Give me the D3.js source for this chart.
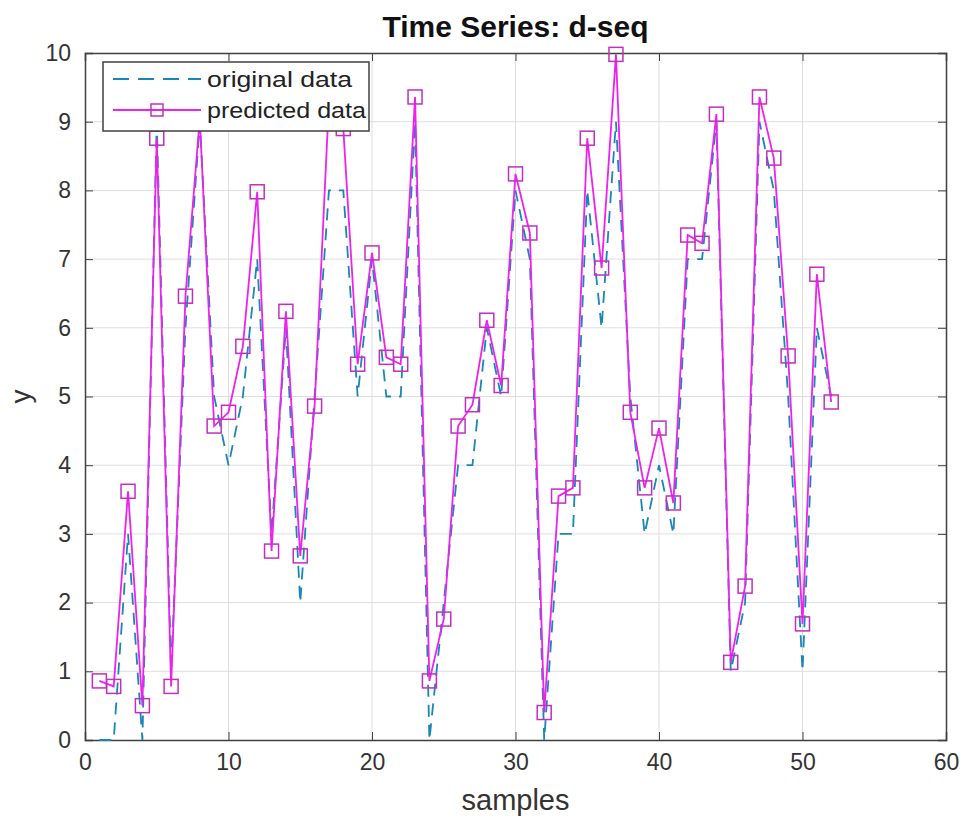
<!DOCTYPE html>
<html>
<head>
  <meta charset="UTF-8">
  <title>Time Series: d-seq</title>
  <script src="https://d3js.org/d3.v7.min.js"></script>
  <style>
    body { margin: 0; background: #fff; }
    text { font-family: "Liberation Sans", Arial, sans-serif; }
  </style>
</head>
<body>
  <div id="chart"></div>

  <script>
    // sample index 1..52
    const samples = d3.range(1, 53);

    const original = [0, 0, 3, 0, 9, 1, 6, 9, 5, 4,
                      5, 7, 3, 6, 2, 5, 8, 8, 5, 7,
                      5, 5, 9, 0, 2, 4, 4, 6, 5, 8,
                      7, 0, 3, 3, 8, 6, 9, 5, 3, 4,
                      3, 7, 7, 9, 1, 2, 9, 8, 5, 1,
                      6, 5];

    const predicted = [0.86, 0.78, 3.62, 0.50, 8.76, 0.78, 6.46, 9.05, 4.57, 4.77,
                       5.73, 7.98, 2.75, 6.24, 2.68, 4.86, 9.30, 8.90, 5.47, 7.09,
                       5.57, 5.47, 9.36, 0.86, 1.76, 4.57, 4.88, 6.11, 5.16, 8.24,
                       7.38, 0.40, 3.55, 3.67, 8.76, 6.87, 9.98, 4.77, 3.67, 4.54,
                       3.45, 7.35, 7.23, 9.11, 1.13, 2.24, 9.36, 8.47, 5.59, 1.69,
                       6.78, 4.92];

    const xTicks = [0, 10, 20, 30, 40, 50, 60];
    const yTicks = [0, 1, 2, 3, 4, 5, 6, 7, 8, 9, 10];

    const W = 974, H = 822;
    const margin = { top: 53, right: 28, bottom: 82, left: 85 };
    const width = W - margin.left - margin.right;
    const height = H - margin.top - margin.bottom;

    const svg = d3.select("#chart").append("svg")
      .attr("width", W)
      .attr("height", H);

    const g = svg.append("g")
      .attr("transform", "translate(" + margin.left + "," + margin.top + ")");

    const x = d3.scaleLinear().domain([0, 60]).range([0, width]);
    const y = d3.scaleLinear().domain([0, 10]).range([height, 0]);

    // grid
    g.append("g").selectAll("line")
      .data(xTicks.slice(1, -1))
      .join("line")
      .attr("x1", d => x(d)).attr("x2", d => x(d))
      .attr("y1", 0).attr("y2", height)
      .attr("stroke", "#dedede").attr("stroke-width", 1);

    g.append("g").selectAll("line")
      .data(yTicks.slice(1, -1))
      .join("line")
      .attr("y1", d => y(d)).attr("y2", d => y(d))
      .attr("x1", 0).attr("x2", width)
      .attr("stroke", "#dedede").attr("stroke-width", 1);

    // axes, ticks pointing inward
    g.append("g")
      .attr("transform", "translate(0," + height + ")")
      .call(d3.axisBottom(x).tickValues(xTicks).tickSize(-8).tickPadding(14));
    g.append("g")
      .call(d3.axisTop(x).tickValues(xTicks).tickSize(-8).tickFormat(""));
    g.append("g")
      .call(d3.axisLeft(y).tickValues(yTicks).tickSize(-8).tickPadding(14));
    g.append("g")
      .attr("transform", "translate(" + width + ",0)")
      .call(d3.axisRight(y).tickValues(yTicks).tickSize(-8).tickFormat(""));

    g.selectAll(".domain").attr("stroke", "#404040").attr("stroke-width", 1.5);
    g.selectAll(".tick line").attr("stroke", "#404040");
    g.selectAll(".tick text").attr("fill", "#333").style("font-size", "23px");

    // original data
    const line = d3.line()
      .x((d, i) => x(samples[i]))
      .y(d => y(d));

    g.append("path")
      .datum(original)
      .attr("fill", "none")
      .attr("stroke", "#1a86b8")
      .attr("stroke-width", 1.8)
      .attr("stroke-dasharray", "12,8")
      .attr("d", line);

    // predicted data
    g.append("path")
      .datum(predicted)
      .attr("fill", "none")
      .attr("stroke", "#ee22ee")
      .attr("stroke-width", 1.8)
      .attr("d", line);

    const ms = 14;
    g.append("g").selectAll("rect")
      .data(predicted)
      .join("rect")
      .attr("x", (d, i) => x(samples[i]) - ms / 2)
      .attr("y", d => y(d) - ms / 2)
      .attr("width", ms).attr("height", ms)
      .attr("fill", "none")
      .attr("stroke", "#c030c0")
      .attr("stroke-width", 1.5);

    // legend
    const lg = svg.append("g").attr("transform", "translate(103,62)");
    lg.append("rect")
      .attr("width", 266).attr("height", 69)
      .attr("fill", "#fff")
      .attr("stroke", "#404040").attr("stroke-width", 1.5);
    lg.append("line")
      .attr("x1", 10).attr("x2", 98).attr("y1", 17).attr("y2", 17)
      .attr("stroke", "#1a86b8").attr("stroke-width", 1.8)
      .attr("stroke-dasharray", "16,9");
    lg.append("text").attr("x", 104).attr("y", 25)
      .style("font-size", "22px").attr("fill", "#222")
      .attr("textLength", 145).attr("lengthAdjust", "spacingAndGlyphs")
      .text("original data");
    lg.append("line")
      .attr("x1", 10).attr("x2", 98).attr("y1", 48).attr("y2", 48)
      .attr("stroke", "#ee22ee").attr("stroke-width", 1.8);
    lg.append("rect")
      .attr("x", 54 - 6).attr("y", 48 - 6)
      .attr("width", 12).attr("height", 12)
      .attr("fill", "none").attr("stroke", "#c030c0").attr("stroke-width", 1.5);
    lg.append("text").attr("x", 104).attr("y", 56)
      .style("font-size", "22px").attr("fill", "#222")
      .attr("textLength", 159).attr("lengthAdjust", "spacingAndGlyphs")
      .text("predicted data");

    // title and labels
    svg.append("text")
      .attr("x", margin.left + width / 2).attr("y", 37)
      .attr("text-anchor", "middle")
      .style("font-size", "29px").style("font-weight", "bold")
      .attr("fill", "#111")
      .attr("textLength", 266).attr("lengthAdjust", "spacingAndGlyphs")
      .text("Time Series: d-seq");

    svg.append("text")
      .attr("x", margin.left + width / 2).attr("y", 810)
      .attr("text-anchor", "middle")
      .style("font-size", "29px").attr("fill", "#333")
      .text("samples");

    svg.append("text")
      .attr("transform", "translate(30," + (margin.top + height / 2) + ") rotate(-90)")
      .attr("text-anchor", "middle")
      .style("font-size", "28px").attr("fill", "#333")
      .text("y");
  </script>
</body>
</html>
